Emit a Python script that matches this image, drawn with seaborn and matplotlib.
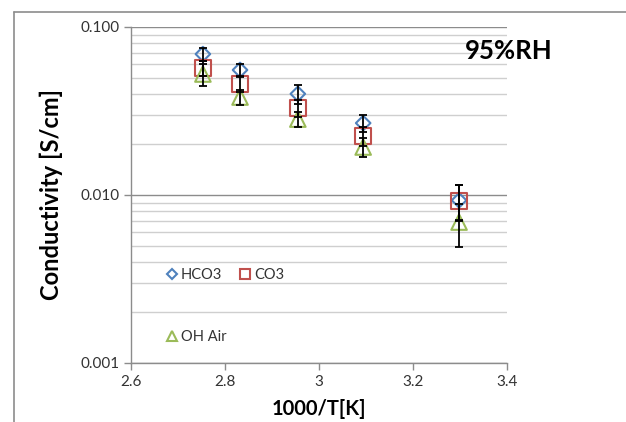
import matplotlib
matplotlib.use("Agg")
import matplotlib.pyplot as plt
import matplotlib.ticker as mticker
from matplotlib.lines import Line2D
import numpy as np
import pandas as pd
import seaborn as sns

# ---- data ----
inv_T = [2.753, 2.832, 2.955, 3.094, 3.298]
hco3 = [0.069, 0.0555, 0.040, 0.0268, 0.0093]
co3 = [0.057, 0.0458, 0.033, 0.0225, 0.0092]
oh_air = [0.0525, 0.0383, 0.0283, 0.0193, 0.0069]
hco3_err = [0.006, 0.005, 0.005, 0.003, 0.0022]
co3_err = [0.006, 0.005, 0.004, 0.003, 0.0022]
oh_err = [0.008, 0.004, 0.003, 0.0025, 0.0020]
series_names = ["HCO3", "CO3", "OH Air"]
x_ticks = [2.6, 2.8, 3.0, 3.2, 3.4]
y_ticks = [0.001, 0.01, 0.1]

sns.set_theme(style="white")
plt.rcParams["font.family"] = ["Lato", "DejaVu Sans"]

fig = plt.figure(figsize=(6.26, 4.22), dpi=100)
ax = fig.add_axes([131 / 626, 1 - 363 / 422, (507 - 131) / 626, (363 - 27) / 422])

colors = ["#4F81BD", "#C0504D", "#9BBB59"]
markers = ["D", "s", "^"]
sizes = [55, 130, 125]
vals = [hco3, co3, oh_air]
errs = [hco3_err, co3_err, oh_err]

handles = []
for name, v, e, c, m, s in zip(series_names, vals, errs, colors, markers, sizes):
    df = pd.DataFrame({"x": inv_T, "y": v})
    sns.scatterplot(data=df, x="x", y="y", ax=ax, marker=m, s=s, color=c,
                    facecolor="none", edgecolor=c, linewidth=1.5, zorder=3)
    ax.errorbar(inv_T, v, yerr=e, fmt="none", ecolor="black", elinewidth=1.3,
                capsize=3, capthick=1.3, zorder=4)
    handles.append(Line2D([], [], marker=m, linestyle="none", markerfacecolor="none",
                          markeredgecolor=c, markeredgewidth=1.5,
                          markersize=6.5 if m != "D" else 5, label=name))

ax.set_yscale("log")
ax.set_ylim(0.001, 0.1)
ax.set_xlim(2.6, 3.4)
ax.set_xticks(x_ticks)
ax.xaxis.set_major_formatter(mticker.FuncFormatter(lambda v, p: f"{v:g}"))
ax.set_yticks(y_ticks)
ax.yaxis.set_major_formatter(mticker.FuncFormatter(lambda v, p: f"{v:.3f}"))
ax.yaxis.set_minor_locator(mticker.LogLocator(base=10, subs=np.arange(2, 10)))
ax.yaxis.set_minor_formatter(mticker.NullFormatter())

ax.grid(True, which="major", axis="y", color="#8C8C8C", linewidth=1)
ax.grid(True, which="minor", axis="y", color="#CFCFCF", linewidth=1)
ax.grid(False, axis="x")
ax.set_axisbelow(True)

for sp in ["top", "right"]:
    ax.spines[sp].set_visible(False)
for sp in ["left", "bottom"]:
    ax.spines[sp].set_color("#8C8C8C")
    ax.spines[sp].set_linewidth(1)

ax.tick_params(axis="both", which="major", direction="out", length=5, width=1,
               color="#8C8C8C", labelsize=11, labelcolor="#333333", left=True, bottom=True)
ax.tick_params(axis="y", which="minor", length=0)

ax.set_xlabel("1000/T[K]", fontsize=14.5, fontweight="bold", color="black", labelpad=7)
ax.set_ylabel("Conductivity [S/cm]", fontsize=17, fontweight="bold", color="black", labelpad=12)

ax.text(509 / 626, 1 - 51 / 422, "95%RH", transform=fig.transFigure, ha="center", va="center",
        fontsize=18.5, fontweight="bold", color="black")

leg = ax.legend(handles=[handles[0], handles[2], handles[1]], ncol=2, frameon=False,
                loc="upper left", bbox_to_anchor=(0.07, 0.305), fontsize=10.5,
                labelspacing=3.3, columnspacing=0.8, handletextpad=0.1, handlelength=1.0,
                borderpad=0)
for t in leg.get_texts():
    t.set_color("#333333")

# figure border
fig.add_artist(Line2D([14 / 626, 1], [1 - 12 / 422, 1 - 12 / 422], transform=fig.transFigure,
                      color="#8C8C8C", linewidth=1.2))
fig.add_artist(Line2D([14 / 626, 14 / 626], [0, 1 - 12 / 422], transform=fig.transFigure,
                      color="#8C8C8C", linewidth=1.2))

fig.savefig("out.png", dpi=100)
